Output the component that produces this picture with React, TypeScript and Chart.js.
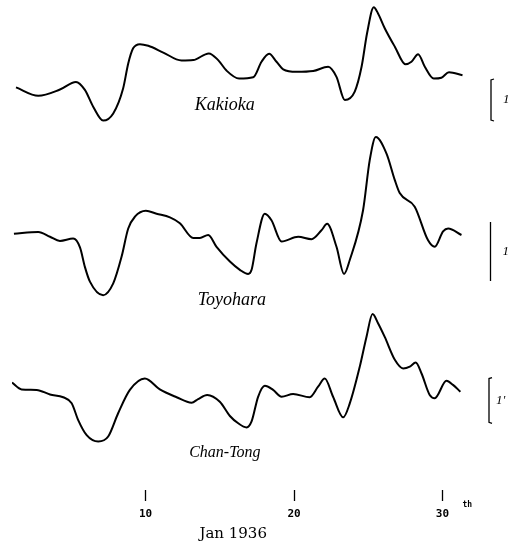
import React, { useEffect, useRef } from "react";
import { Chart, registerables } from "chart.js";

Chart.register(...registerables);

// ---- data (days of January 1936, deviations in minutes of arc) ----
const dayTicks = [10, 20, 30];
const axisTitle = "Jan 1936";
const tickSuffix = "th";
const scaleText = "1'";
const stationNames = ["Kakioka", "Toyohara", "Chan-Tong"];

const kakiokaDays = [1.27, 2.77, 4.23, 5.31, 5.91, 6.47, 7.14, 7.82, 8.49, 8.83, 9.16, 9.62, 10.18, 11.19, 12.42, 13.21, 14.26, 14.89, 15.45, 16.3, 17.25, 17.81, 18.32, 18.82, 19.27, 20.17, 21.29, 22.3, 22.86, 23.42, 24.09, 24.55, 24.92, 25.37, 25.66, 26.11, 26.79, 27.51, 27.91, 28.36, 28.81, 29.41, 29.93, 30.44, 31.35];
const kakiokaValues = [0.8, 0.6, 0.75, 0.93, 0.74, 0.34, 0.01, 0.18, 0.78, 1.37, 1.73, 1.83, 1.79, 1.63, 1.44, 1.45, 1.61, 1.45, 1.2, 1.01, 1.04, 1.41, 1.6, 1.41, 1.23, 1.17, 1.19, 1.29, 1.05, 0.5, 0.7, 1.29, 2.09, 2.71, 2.56, 2.21, 1.77, 1.35, 1.41, 1.59, 1.29, 1.01, 1.03, 1.16, 1.09];

const toyoharaDays = [1.13, 2.77, 3.56, 4.23, 5.12, 5.58, 5.91, 6.25, 7.14, 7.82, 8.38, 8.83, 9.28, 10.02, 10.74, 11.64, 12.31, 13.21, 13.66, 14.22, 14.78, 15.68, 16.35, 16.91, 17.14, 17.47, 18.03, 18.48, 19.16, 20.28, 21.18, 21.85, 22.23, 22.86, 23.37, 23.76, 24.65, 25.1, 25.51, 26.23, 26.79, 27.12, 28.13, 29.03, 29.48, 30.04, 30.38, 31.28];
const toyoharaValues = [0.8, 0.83, 0.75, 0.68, 0.72, 0.57, 0.24, -0.01, -0.24, -0.04, 0.41, 0.89, 1.09, 1.19, 1.14, 1.08, 0.98, 0.73, 0.73, 0.78, 0.58, 0.33, 0.19, 0.12, 0.19, 0.64, 1.14, 1.03, 0.67, 0.75, 0.71, 0.86, 0.97, 0.58, 0.12, 0.36, 1.2, 2.05, 2.44, 2.16, 1.71, 1.49, 1.26, 0.69, 0.58, 0.84, 0.89, 0.78];

const chanTongDays = [1.0, 1.65, 2.66, 3.56, 4.45, 5.02, 5.46, 6.03, 6.81, 7.48, 8.15, 8.94, 9.95, 10.96, 12.09, 13.1, 13.54, 14.15, 15.0, 15.68, 16.24, 16.8, 17.14, 17.58, 18.03, 18.59, 19.16, 19.94, 21.06, 21.62, 22.07, 22.63, 23.31, 23.76, 24.43, 24.88, 25.29, 25.66, 26.11, 26.79, 27.35, 27.8, 28.2, 28.59, 29.14, 29.48, 30.27, 30.71, 31.21];
const chanTongValues = [0.89, 0.74, 0.73, 0.63, 0.57, 0.44, 0.07, -0.26, -0.4, -0.29, 0.22, 0.73, 0.98, 0.74, 0.57, 0.45, 0.53, 0.62, 0.47, 0.16, 0.0, -0.09, 0.04, 0.58, 0.82, 0.73, 0.58, 0.64, 0.57, 0.8, 0.98, 0.58, 0.13, 0.44, 1.24, 1.89, 2.39, 2.19, 1.89, 1.39, 1.2, 1.24, 1.33, 1.09, 0.62, 0.55, 0.93, 0.84, 0.69];

// ---- layout (not data) ----
const axisRanges = {
  yK: { min: -8.786, max: 2.881 },
  yT: { min: -3.542, max: 4.763 },
  yC: { min: -1.46, max: 9.263 },
};
const labelPlacement = [
  { axis: "yK", day: 15.34, v: 0.38, size: 18 },
  { axis: "yT", day: 15.81, v: -0.32, size: 18 },
  { axis: "yC", day: 15.34, v: -0.65, size: 16 },
];
const bracketPlacement = [
  { axis: "yK", dx: 4, style: "bracket", textDx: 16, text: scaleText },
  { axis: "yT", dx: 3.5, style: "bar", textDx: 16, text: "1" },
  { axis: "yC", dx: 2, style: "bracket", textDx: 11, text: scaleText },
];
const titleDay = 15.9;
const titleOffsetY = 44;

const toPoints = (xs: number[], ys: number[]) => xs.map((x, i) => ({ x, y: ys[i] }));

const decorPlugin = {
  id: "decor",
  afterDraw(chart: any) {
    const ctx = chart.ctx as CanvasRenderingContext2D;
    const area = chart.chartArea;
    const xs = chart.scales.x;
    ctx.save();
    ctx.fillStyle = "#000";
    ctx.strokeStyle = "#000";
    // station names
    labelPlacement.forEach((p, i) => {
      const y = chart.scales[p.axis].getPixelForValue(p.v);
      const x = xs.getPixelForValue(p.day);
      ctx.font = `italic ${p.size}px "Liberation Serif"`;
      ctx.textAlign = "center";
      ctx.textBaseline = "middle";
      ctx.fillText(stationNames[i], x, y);
    });
    // scale brackets of 1 minute of arc
    bracketPlacement.forEach((b) => {
      const sc = chart.scales[b.axis];
      const y0 = sc.getPixelForValue(0);
      const y1 = sc.getPixelForValue(1);
      const x = area.right + b.dx;
      ctx.lineWidth = 1.3;
      ctx.beginPath();
      if (b.style === "bracket") {
        ctx.moveTo(x + 3, y1);
        ctx.lineTo(x, y1 + 1);
        ctx.lineTo(x, y0 - 1);
        ctx.lineTo(x + 3, y0);
      } else {
        ctx.moveTo(x, y1);
        ctx.lineTo(x, y0);
      }
      ctx.stroke();
      ctx.font = 'italic 13px "Liberation Serif"';
      ctx.textAlign = "left";
      ctx.textBaseline = "middle";
      ctx.fillText(b.text, x + b.textDx - 4, (y0 + y1) / 2);
    });
    // "th" after the last tick
    const xLast = xs.getPixelForValue(dayTicks[dayTicks.length - 1]);
    ctx.font = 'bold 8px "DejaVu Sans Mono"';
    ctx.textAlign = "left";
    ctx.textBaseline = "middle";
    ctx.fillText(tickSuffix, xLast + 20, area.bottom + 15);
    // axis title
    ctx.font = '15px "DejaVu Serif"';
    ctx.textAlign = "center";
    ctx.textBaseline = "middle";
    ctx.fillText(axisTitle, xs.getPixelForValue(titleDay), area.bottom + titleOffsetY);
    ctx.restore();
  },
};

export default function App() {
  const ref = useRef<HTMLCanvasElement | null>(null);
  useEffect(() => {
    if (!ref.current) return;
    const common = {
      borderColor: "#000",
      borderWidth: 2,
      pointRadius: 0,
      fill: false,
      cubicInterpolationMode: "monotone" as const,
    };
    const chart = new Chart(ref.current, {
      type: "line",
      data: {
        datasets: [
          { ...common, label: stationNames[0], data: toPoints(kakiokaDays, kakiokaValues), yAxisID: "yK" },
          { ...common, label: stationNames[1], data: toPoints(toyoharaDays, toyoharaValues), yAxisID: "yT" },
          { ...common, label: stationNames[2], data: toPoints(chanTongDays, chanTongValues), yAxisID: "yC" },
        ],
      },
      options: {
        animation: false,
        responsive: true,
        maintainAspectRatio: false,
        layout: { padding: { left: 12, right: 23, top: 0, bottom: 0 } },
        plugins: { legend: { display: false }, tooltip: { enabled: false } },
        scales: {
          x: {
            type: "linear",
            min: 1,
            max: 33,
            position: "bottom",
            afterBuildTicks: (s: any) => {
              s.ticks = dayTicks.map((v) => ({ value: v }));
            },
            afterFit: (s: any) => {
              s.height = 56;
            },
            border: { display: false },
            grid: {
              drawOnChartArea: false,
              drawTicks: true,
              tickLength: 11,
              tickColor: "#000",
              tickWidth: 1.3,
            },
            ticks: {
              color: "#000",
              padding: 7,
              maxRotation: 0,
              autoSkip: false,
              font: { family: "DejaVu Sans Mono", size: 11, weight: "bold" },
            },
            title: { display: false, text: axisTitle },
          },
          yK: { display: false, ...axisRanges.yK },
          yT: { display: false, ...axisRanges.yT },
          yC: { display: false, ...axisRanges.yC },
        },
      },
      plugins: [decorPlugin],
    } as any);
    return () => chart.destroy();
  }, []);
  return (
    <div style={{ position: "fixed", left: 0, top: 0, width: 510, height: 546, background: "#fff" }}>
      <canvas ref={ref} />
    </div>
  );
}
